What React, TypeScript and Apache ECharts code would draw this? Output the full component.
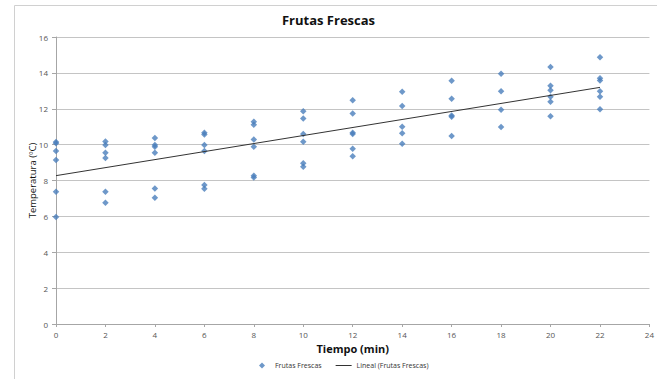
import React, { useEffect, useRef } from "react";
import * as echarts from "echarts";

const titleText = "Frutas Frescas";
const xName = "Tiempo (min)";
const yName = "Temperatura (ºC)";
const seriesName = "Frutas Frescas";
const trendName = "Lineal (Frutas Frescas)";

const times = [0, 2, 4, 6, 8, 10, 12, 14, 16, 18, 20, 22];
const temps0 = [10.15, 10.08, 9.64, 9.14, 7.37, 5.96];
const temps2 = [10.18, 9.98, 9.55, 9.25, 7.37, 6.76];
const temps4 = [10.37, 9.98, 9.88, 9.55, 7.56, 7.04];
const temps6 = [10.66, 10.57, 9.98, 9.64, 7.75, 7.54];
const temps8 = [11.28, 11.11, 10.28, 9.88, 8.27, 8.17];
const temps10 = [11.86, 11.45, 10.59, 10.16, 8.96, 8.77];
const temps12 = [12.47, 11.74, 10.66, 10.59, 9.77, 9.35];
const temps14 = [12.95, 12.15, 11.0, 10.63, 10.05];
const temps16 = [13.56, 12.56, 11.63, 11.56, 10.48];
const temps18 = [13.95, 12.97, 11.95, 10.98];
const temps20 = [14.33, 13.28, 13.03, 12.67, 12.39, 11.58];
const temps22 = [14.87, 13.7, 13.58, 12.97, 12.67, 11.97];

const tempsByTime = [temps0, temps2, temps4, temps6, temps8, temps10, temps12, temps14, temps16, temps18, temps20, temps22];

export default function App() {
  const ref = useRef<HTMLDivElement>(null);
  useEffect(() => {
    if (!ref.current) return;
    const chart = echarts.init(ref.current, undefined, { renderer: "svg" });

    const points: number[][] = [];
    tempsByTime.forEach((arr, i) => arr.forEach((v) => points.push([times[i], v])));
    // least-squares linear trend
    const n = points.length;
    const mx = points.reduce((s, p) => s + p[0], 0) / n;
    const my = points.reduce((s, p) => s + p[1], 0) / n;
    let sxy = 0, sxx = 0;
    points.forEach((p) => { sxy += (p[0] - mx) * (p[1] - my); sxx += (p[0] - mx) ** 2; });
    const slope = sxy / sxx;
    const icpt = my - slope * mx;
    const x0 = times[0];
    const x1 = times[times.length - 1];
    const trend = [[x0, icpt + slope * x0], [x1, icpt + slope * x1]];

    const font = "'Open Sans', 'Liberation Sans', sans-serif";
    chart.setOption({
      animation: false,
      backgroundColor: "#ffffff",
      textStyle: { fontFamily: font },
      graphic: [
        {
          type: "rect",
          shape: { x: 14.5, y: 5.5, width: 700, height: 400 },
          style: { fill: "none", stroke: "#d0d0d0", lineWidth: 1 },
          silent: true,
          z: -10,
        },
      ],
      title: {
        text: titleText,
        left: "center",
        top: 8,
        textStyle: { fontFamily: font, fontWeight: "bold", fontSize: 13, color: "#111" },
      },
      grid: { left: 56, right: 4, top: 37, bottom: 55, containLabel: false },
      legend: {
        bottom: 5,
        left: 254,
        itemGap: 14,
        itemWidth: 16,
        itemHeight: 6,
        textStyle: { fontFamily: font, fontSize: 7, color: "#333" },
        data: [
          { name: seriesName, icon: "path://M3,0 L6,3 L3,6 L0,3 Z" },
          { name: trendName, icon: "path://M0,0 L16,0 L16,1 L0,1 Z" },
        ],
      },
      xAxis: {
        type: "value",
        min: 0,
        max: 24,
        interval: 2,
        name: xName,
        nameLocation: "middle",
        nameGap: 19,
        nameTextStyle: { fontFamily: font, fontWeight: "bold", fontSize: 11, color: "#111" },
        axisLine: { show: true, lineStyle: { color: "#a6a6a6" } },
        axisTick: { show: true, length: 3, lineStyle: { color: "#a6a6a6" } },
        axisLabel: { fontSize: 8, color: "#555", margin: 6, fontFamily: font },
        splitLine: { show: false },
      },
      yAxis: {
        type: "value",
        min: 0,
        max: 16,
        interval: 2,
        name: yName,
        nameLocation: "middle",
        nameGap: 19,
        nameMoveOverlap: false,
        nameRotate: 90,
        nameTextStyle: { fontFamily: font, fontSize: 9.5, color: "#111" },
        axisLine: { show: true, lineStyle: { color: "#a6a6a6" } },
        axisTick: { show: true, length: 4, lineStyle: { color: "#a6a6a6" } },
        axisLabel: { fontSize: 8, color: "#555", margin: 8, fontFamily: font },
        splitLine: { show: true, lineStyle: { color: "#c4c4c4", width: 1 } },
      },
      series: [
        {
          name: seriesName,
          type: "scatter",
          symbol: "diamond",
          symbolSize: 6.5,
          itemStyle: { color: "#4a7ebb" },
          data: points,
          z: 3,
        },
        {
          name: trendName,
          type: "line",
          symbol: "none",
          showSymbol: false,
          lineStyle: { color: "#333", width: 1 },
          itemStyle: { color: "#333" },
          data: trend,
          z: 4,
        },
      ],
    });
    return () => chart.dispose();
  }, []);
  return (
    <div
      ref={ref}
      style={{ position: "absolute", left: 0, top: 0, width: 657, height: 379 }}
    />
  );
}
